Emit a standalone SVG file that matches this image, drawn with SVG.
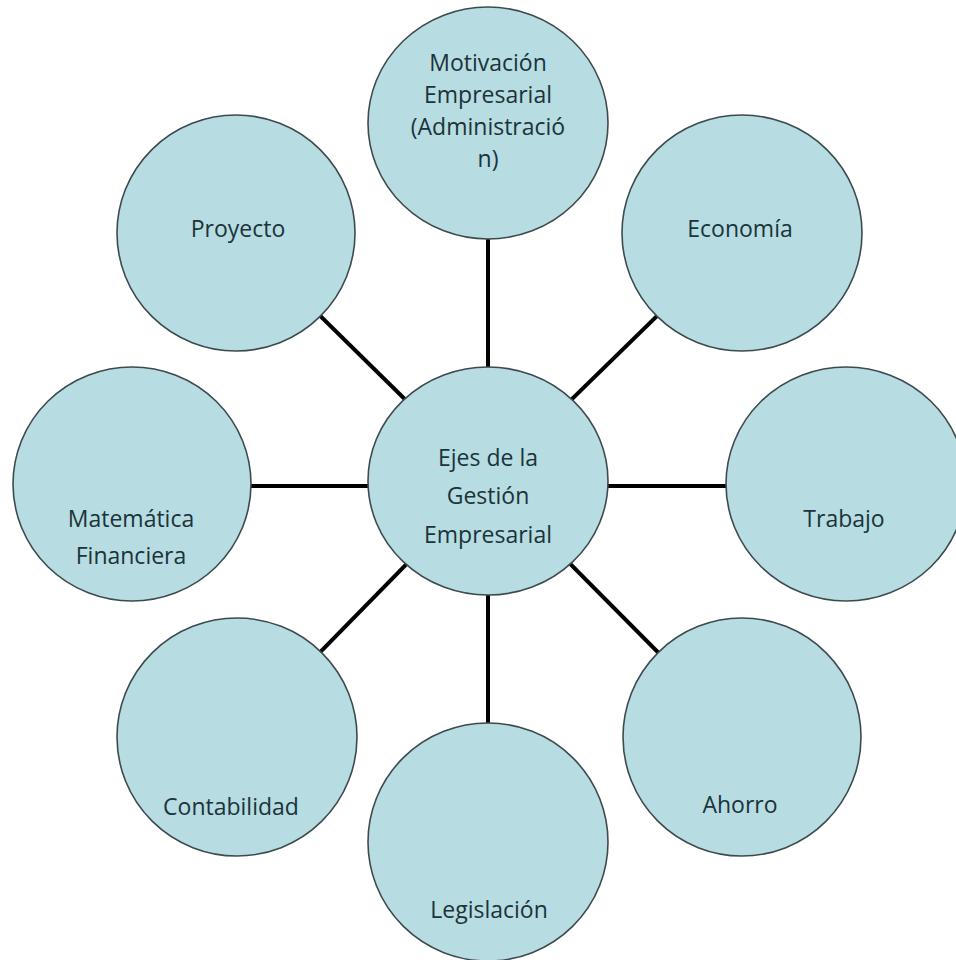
<svg xmlns="http://www.w3.org/2000/svg" width="956" height="960" viewBox="0 0 956 960">
<style>
.n ellipse{fill:#b7dce2;stroke:#3d4b4f;stroke-width:1.6}
.n text{font-family:"Open Sans","Noto Sans",sans-serif;font-size:23px;fill:#1a343a;text-anchor:middle}
.c line{stroke:#000;stroke-width:4}
</style>
<rect width="956" height="960" fill="#fff"/>
<g class="c" id="connectors">
<line x1="488" y1="481" x2="488" y2="123"/>
<line x1="488" y1="481" x2="742" y2="233"/>
<line x1="488" y1="486" x2="846" y2="486"/>
<line x1="488" y1="481" x2="742" y2="737"/>
<line x1="488" y1="481" x2="488" y2="842"/>
<line x1="488" y1="481" x2="237" y2="737"/>
<line x1="488" y1="486" x2="132" y2="486"/>
<line x1="488" y1="481" x2="236" y2="233"/>
</g>
<g class="n" id="motivacion"><ellipse cx="488" cy="123" rx="120" ry="116"/>
<text x="488" y="71">Motivación</text><text x="488" y="103">Empresarial</text><text x="488" y="135">(Administració</text><text x="488" y="167">n)</text></g>
<g class="n" id="economia"><ellipse cx="742" cy="233" rx="120" ry="118"/><text x="740" y="237">Economía</text></g>
<g class="n" id="trabajo"><ellipse cx="846" cy="484" rx="120" ry="117"/><text x="844" y="527">Trabajo</text></g>
<g class="n" id="ahorro"><ellipse cx="742" cy="737" rx="119" ry="119"/><text x="740" y="813">Ahorro</text></g>
<g class="n" id="legislacion"><ellipse cx="488" cy="842" rx="120" ry="119"/><text x="489" y="918">Legislación</text></g>
<g class="n" id="contabilidad"><ellipse cx="237" cy="737" rx="120" ry="119"/><text x="231" y="815">Contabilidad</text></g>
<g class="n" id="matematica"><ellipse cx="132" cy="484" rx="119" ry="117"/><text x="131" y="527">Matemática</text><text x="131" y="564">Financiera</text></g>
<g class="n" id="proyecto"><ellipse cx="236" cy="233" rx="119" ry="118"/><text x="238" y="237">Proyecto</text></g>
<g class="n" id="centro"><ellipse cx="488" cy="481" rx="120" ry="114"/>
<text x="488" y="466">Ejes de la</text><text x="488" y="504">Gestión</text><text x="488" y="543">Empresarial</text></g>
</svg>
